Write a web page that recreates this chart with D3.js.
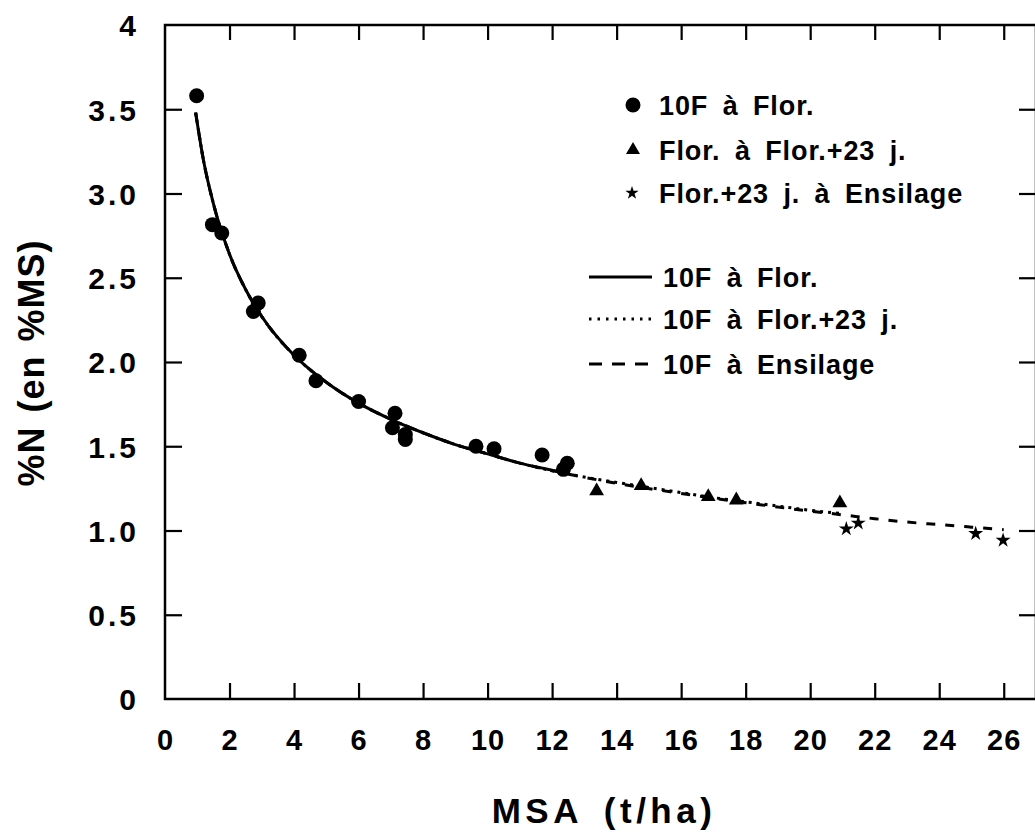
<!DOCTYPE html>
<html>
<head>
<meta charset="utf-8">
<script src="https://cdn.jsdelivr.net/npm/d3@7"></script>
<style>
  html, body { margin: 0; padding: 0; background: #fff; }
  svg { display: block; }
  text { font-family: "Liberation Sans", Arial, Helvetica, sans-serif; font-weight: bold; fill: #000; }
</style>
</head>
<body>
<svg id="chart" width="1035" height="832"></svg>
<script>
// ---- Data ----
const xTickValues = [0, 2, 4, 6, 8, 10, 12, 14, 16, 18, 20, 22, 24, 26];
const yTickValues = [0, 0.5, 1.0, 1.5, 2.0, 2.5, 3.0, 3.5, 4];
const yTickLabels = ["0", "0.5", "1.0", "1.5", "2.0", "2.5", "3.0", "3.5", "4"];

// points "10F à Flor."
const circleX = [0.98, 1.47, 1.76, 2.74, 2.89, 4.16, 4.68, 6.0, 7.05, 7.13, 7.45, 7.45, 9.64, 10.2, 11.69, 12.35, 12.47];
const circleY = [3.58, 2.815, 2.766, 2.30, 2.35, 2.04, 1.889, 1.766, 1.61, 1.696, 1.57, 1.54, 1.50, 1.485, 1.448, 1.363, 1.399];
// points "Flor. à Flor.+23 j."
const triangleX = [13.38, 14.76, 16.84, 17.71, 20.92];
const triangleY = [1.234, 1.266, 1.20, 1.18, 1.163];
// points "Flor.+23 j. à Ensilage"
const starX = [21.12, 21.49, 25.13, 25.98];
const starY = [1.01, 1.044, 0.982, 0.942];

// fitted curves
const solidX = [0.95, 1.2, 1.5, 2, 2.5, 3, 4, 5, 6, 7, 8, 9, 10, 11, 12.5];
const solidY = [3.48, 3.19, 2.94, 2.64, 2.43, 2.27, 2.04, 1.88, 1.756, 1.66, 1.58, 1.51, 1.455, 1.40, 1.34];
const dottedX = [0.95, 1.2, 1.5, 2, 2.5, 3, 4, 5, 6, 7, 8, 9, 10, 11, 12.5, 14, 15, 16, 17, 18, 19, 20, 21];
const dottedY = [3.48, 3.19, 2.94, 2.64, 2.43, 2.27, 2.04, 1.88, 1.756, 1.66, 1.58, 1.51, 1.455, 1.40, 1.335, 1.285, 1.255, 1.225, 1.195, 1.17, 1.145, 1.12, 1.10];
const dashedX = [0.95, 1.2, 1.5, 2, 2.5, 3, 4, 5, 6, 7, 8, 9, 10, 11, 12.5, 14, 16, 18, 20, 21, 22, 23, 24, 25, 26];
const dashedY = [3.48, 3.19, 2.94, 2.64, 2.43, 2.27, 2.04, 1.88, 1.756, 1.66, 1.58, 1.51, 1.455, 1.40, 1.335, 1.28, 1.22, 1.165, 1.115, 1.093, 1.07, 1.05, 1.035, 1.02, 1.005];

const legendPointLabels = ["10F à Flor.", "Flor. à Flor.+23 j.", "Flor.+23 j. à Ensilage"];
const legendLineLabels = ["10F à Flor.", "10F à Flor.+23 j.", "10F à Ensilage"];
const xTitle = "MSA (t/ha)";
const yTitle = "%N (en %MS)";

// ---- Layout ----
const svg = d3.select("#chart");
const pLeft = 165, pRight = 1036, pTop = 25, pBottom = 699;
const x = d3.scaleLinear().domain([0, 27]).range([pLeft, pRight]);
const y = d3.scaleLinear().domain([0, 4]).range([pBottom, pTop]);

// frame
svg.append("rect")
  .attr("x", pLeft).attr("y", pTop)
  .attr("width", pRight - pLeft).attr("height", pBottom - pTop)
  .attr("fill", "none").attr("stroke", "#000").attr("stroke-width", 2.5);

function styleAxis(g) {
  g.select(".domain").remove();
  g.selectAll(".tick line").attr("stroke", "#000").attr("stroke-width", 2.2);
}

// bottom axis
const gx = svg.append("g").attr("transform", `translate(0,${pBottom})`)
  .call(d3.axisBottom(x).tickValues(xTickValues).tickSize(-16).tickFormat(d3.format("d")));
styleAxis(gx);
gx.selectAll(".tick text")
  .attr("y", 51).attr("dy", 0)
  .style("font-size", "29px").style("font-family", "'Liberation Sans', Arial, sans-serif")
  .style("font-weight", "bold").style("letter-spacing", "1px").attr("fill", "#000");
gx.selectAll(".tick").filter(d => d === 0).select("line").remove();

// top axis (ticks only)
const gt = svg.append("g").attr("transform", `translate(0,${pTop})`)
  .call(d3.axisTop(x).tickValues(xTickValues.filter(d => d > 0)).tickSize(-15).tickFormat(""));
styleAxis(gt);

// left axis
const gy = svg.append("g").attr("transform", `translate(${pLeft},0)`)
  .call(d3.axisLeft(y).tickValues(yTickValues).tickSize(-17)
    .tickFormat((d, i) => yTickLabels[i]));
styleAxis(gy);
gy.selectAll(".tick text")
  .attr("x", -26).attr("dy", "0.36em")
  .style("font-size", "30px").style("font-family", "'Liberation Sans', Arial, sans-serif")
  .style("font-weight", "bold").style("letter-spacing", "3px").attr("fill", "#000");
gy.selectAll(".tick").filter(d => d === 0 || d === 4).select("line").remove();

// right axis (ticks only)
const gr = svg.append("g").attr("transform", `translate(${pRight},0)`)
  .call(d3.axisRight(y).tickValues(yTickValues.filter(d => d > 0 && d < 4)).tickSize(-17).tickFormat(""));
styleAxis(gr);

// ---- curves ----
const lineGen = d3.line().x(d => x(d[0])).y(d => y(d[1])).curve(d3.curveMonotoneX);
const dashedData = dashedX.map((v, i) => [v, dashedY[i]]);
const dottedData = dottedX.map((v, i) => [v, dottedY[i]]);
const solidData = solidX.map((v, i) => [v, solidY[i]]);

svg.append("path").datum(dashedData).attr("d", lineGen)
  .attr("fill", "none").attr("stroke", "#000").attr("stroke-width", 3)
  .attr("stroke-dasharray", "9,10");
svg.append("path").datum(dottedData).attr("d", lineGen)
  .attr("fill", "none").attr("stroke", "#000").attr("stroke-width", 3)
  .attr("stroke-dasharray", "3,5");
svg.append("path").datum(solidData).attr("d", lineGen)
  .attr("fill", "none").attr("stroke", "#000").attr("stroke-width", 3);

// ---- points ----
svg.append("g").selectAll("circle")
  .data(circleX.map((v, i) => [v, circleY[i]]))
  .join("circle")
  .attr("cx", d => x(d[0])).attr("cy", d => y(d[1])).attr("r", 7.5)
  .attr("fill", "#000");

const triSym = d3.symbol().type(d3.symbolTriangle).size(95);
svg.append("g").selectAll("path")
  .data(triangleX.map((v, i) => [v, triangleY[i]]))
  .join("path")
  .attr("d", triSym)
  .attr("transform", d => `translate(${x(d[0])},${y(d[1])})`)
  .attr("fill", "#000");

const starSym = d3.symbol().type(d3.symbolStar).size(70);
svg.append("g").selectAll("path")
  .data(starX.map((v, i) => [v, starY[i]]))
  .join("path")
  .attr("d", starSym)
  .attr("transform", d => `translate(${x(d[0])},${y(d[1])})`)
  .attr("fill", "#000");

// ---- legend: points ----
const legPts = svg.append("g");
const legPtY = [105, 150, 193];
const legTextStyle = sel => sel
  .style("font-size", "27px").style("letter-spacing", "0.9px").style("word-spacing", "6px");
legPts.append("circle").attr("cx", 633).attr("cy", legPtY[0]).attr("r", 7.5).attr("fill", "#000");
legPts.append("path").attr("d", d3.symbol().type(d3.symbolTriangle).size(85))
  .attr("transform", `translate(633,${legPtY[1]})`).attr("fill", "#000");
legPts.append("path").attr("d", d3.symbol().type(d3.symbolStar).size(55))
  .attr("transform", `translate(632,${legPtY[2]})`).attr("fill", "#000");
legendPointLabels.forEach((t, i) => {
  legPts.append("text").attr("x", 659).attr("y", legPtY[i] + 10).text(t).call(legTextStyle);
});

// ---- legend: lines ----
const legLines = svg.append("g");
const legLnY = [277, 319, 364];
const dashes = [null, "2.5,6", "13,10"];
legendLineLabels.forEach((t, i) => {
  const ln = legLines.append("line")
    .attr("x1", 589).attr("x2", 652)
    .attr("y1", legLnY[i]).attr("y2", legLnY[i])
    .attr("stroke", "#000").attr("stroke-width", 3);
  if (dashes[i]) ln.attr("stroke-dasharray", dashes[i]);
  legLines.append("text").attr("x", 663).attr("y", legLnY[i] + 10).text(t).call(legTextStyle);
});

// ---- axis titles ----
svg.append("text")
  .attr("x", 604).attr("y", 823)
  .attr("text-anchor", "middle")
  .style("font-size", "35px").style("letter-spacing", "4.5px").style("word-spacing", "8px")
  .text(xTitle);

svg.append("text")
  .attr("transform", "translate(44,363) rotate(-90)")
  .attr("text-anchor", "middle")
  .style("font-size", "36px").style("letter-spacing", "1px").style("word-spacing", "3px")
  .text(yTitle);
</script>
</body>
</html>
